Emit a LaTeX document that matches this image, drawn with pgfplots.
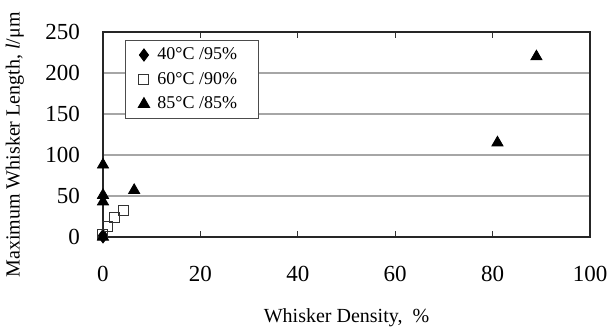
\documentclass[border=0pt]{standalone}
\usepackage{fontspec}
\setmainfont{Liberation Serif}
\usepackage{pgfplots}
\pgfplotsset{compat=1.18}
\begin{document}
\begin{tikzpicture}
\path[use as bounding box] (-51.5pt,-46.5pt) rectangle (254pt,118.5pt);
\begin{axis}[
  at={(0,0)}, anchor=south west,
  scale only axis, width=243.5pt, height=102.5pt,
  xmin=0, xmax=100, ymin=0, ymax=250,
  xtick={0,20,40,60,80,100}, ytick={0,50,100,150,200,250},
  ymajorgrids, grid style={gray!70, line width=0.6pt},
  axis line style={black!85, line width=1pt},
  tick align=inside, major tick length=3pt,
  xtick style={black!80, line width=0.6pt},
  ytick style={draw=none},
  /pgf/number format/assume math mode=true,
  ticklabel style={font=\fontsize{11.5}{13}\selectfont},
  xticklabel style={yshift=-11pt},
  yticklabel style={xshift=-8pt},
  xlabel={Whisker Density,\ \ \%},
  ylabel={Maximum Whisker Length, \textit{l}/μm},
  label style={font=\fontsize{10}{11}\selectfont},
  xlabel style={at={(axis description cs:0.5,-0.395)}, anchor=center},
  ylabel style={at={(axis description cs:-0.181,0.449)}, anchor=center},
  clip=false,
  legend cell align=left,
  legend style={at={(0.045,0.961)}, anchor=north west, draw=black!70, line width=0.5pt,
    font=\fontsize{9}{11}\selectfont, fill=white, inner xsep=6.5pt, inner ysep=1.5pt,
    row sep=0.8pt, nodes={inner xsep=4pt}},
]
\addplot[only marks, mark=diamond*, mark size=3pt, black] coordinates {(0,0) (0,2)};
\addlegendentry{40°C /95\%}
\addplot[only marks, mark=square, mark size=2.5pt, black!80, mark options={fill=white, line width=0.5pt}] coordinates {(0,3) (1,13) (2.3,24) (4.3,32)};
\addlegendentry{60°C /90\%}
\addplot[only marks, mark=triangle*, mark size=3.2pt, black] coordinates {(0,0) (0,43) (0,51) (0,88) (6.4,57) (81,115) (89,220)};
\addlegendentry{85°C /85\%}
\end{axis}
\end{tikzpicture}
\end{document}
